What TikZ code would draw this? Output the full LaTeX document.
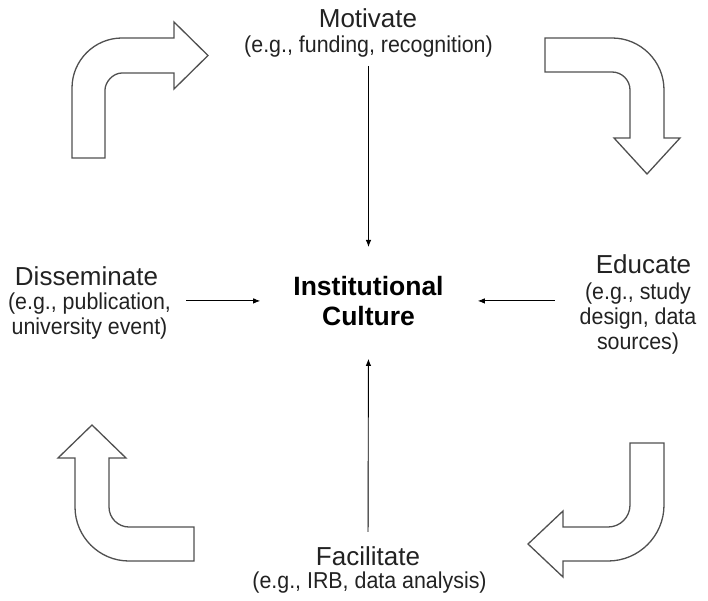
\documentclass[tikz,border=0pt]{standalone}
\usepackage{fontspec}
\setmainfont{Liberation Sans}
\newfontfamily\subfnt[FakeStretch=0.93]{Liberation Sans}
\usetikzlibrary{arrows.meta}
\definecolor{txt}{HTML}{222222}
\definecolor{bent}{HTML}{505050}
\begin{document}
\begin{tikzpicture}[x=1pt,y=-1pt,
  head/.style={font=\fontsize{26}{30}\selectfont, text=txt, inner sep=0pt, anchor=base},
  sub/.style={font=\subfnt\fontsize{23}{25}\selectfont, text=txt, inner sep=0pt, align=center},
  core/.style={font=\bfseries\fontsize{26.5}{30}\selectfont, text=black, inner sep=0pt, align=center, anchor=north},
  bentarrow/.style={draw=bent, line width=1.3pt, fill=white, line join=miter},
  link/.style={-{Latex[length=7pt,width=5.5pt]}, line width=0.9pt, black}]
\useasboundingbox (0,0) rectangle (708,601);

% bent arrows
\draw[bentarrow] (72,158) -- (72,88) .. controls (72,60.4) and (94.4,38) .. (122,38)
  -- (174,38) -- (174,22) -- (208,55.5) -- (174,89) -- (174,73) -- (122,73)
  .. controls (112.6,73) and (105,82.4) .. (105,90) -- (105,158) -- cycle;
\draw[bentarrow] (545,38) -- (612,38) .. controls (640.7,38) and (664,61.3) .. (664,90)
  -- (664,138) -- (680,138) -- (647,174) -- (614,138) -- (630,138) -- (630,90)
  .. controls (630,80.1) and (621.9,72) .. (612,72) -- (545,72) -- cycle;
\draw[bentarrow] (92,425) -- (126,458) -- (109,458) -- (109,507)
  .. controls (109,518) and (118,527) .. (129,527) -- (194,527) -- (194,561) -- (129,561)
  .. controls (99.2,561) and (75,536.8) .. (75,507) -- (75,458) -- (58,458) -- cycle;
\draw[bentarrow] (630,443) -- (664,443) -- (664,505) .. controls (664,535.9) and (638.9,561) .. (608,561)
  -- (563,561) -- (563,577) -- (528,544) -- (563,511) -- (563,527) -- (608,527)
  .. controls (620.2,527) and (630,517.2) .. (630,505) -- cycle;

% texts
\node[core] (core) at (368.5,276) {Institutional\\Culture};
\node[head] (moth) at (368,28) {Motivate};
\node[sub, anchor=base] (mots) at (368.5,53) {(e.g., funding, recognition)};
\node[head] (dish) at (86.5,285) {Disseminate};
\node[sub, anchor=north] (diss) at (89.5,293) {(e.g., publication,\\university event)};
\node[head] (eduh) at (643.5,273) {Educate};
\node[sub, anchor=north] (edus) at (638,283) {(e.g., study\\design, data\\sources)};
\node[head] (fach) at (368,565) {Facilitate};
\node[sub, anchor=base] (facs) at (369.5,588) {(e.g., IRB, data analysis)};

% connectors
\draw[link, shorten <=8pt, shorten >=29pt] (mots.south) -- (core.north);
\draw[link, shorten <=14pt, shorten >=33pt] (fach.north) -- (core.south);
\draw[link, shorten <=15pt, shorten >=33pt] (diss.east |- core.west) -- (core.west);
\draw[link, shorten <=25pt, shorten >=34pt] (edus.west |- core.east) -- (core.east);
\end{tikzpicture}
\end{document}
